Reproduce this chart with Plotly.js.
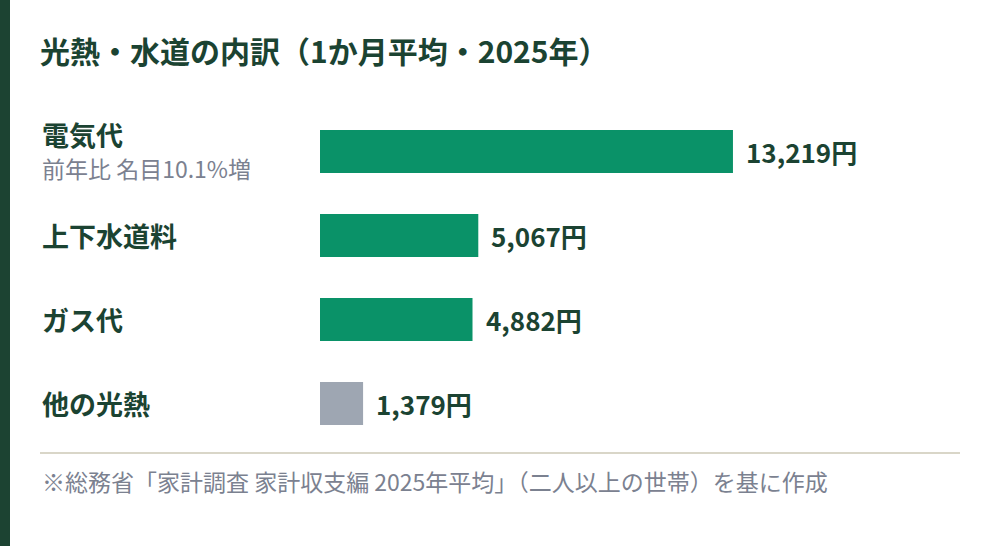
<!DOCTYPE html>
<html>
<head>
<meta charset="utf-8">
<script src="https://cdn.plot.ly/plotly-3.0.1.min.js"></script>
<style>
  html, body { margin: 0; padding: 0; background: #ffffff; }
  #chart { width: 1000px; height: 546px; }
</style>
</head>
<body>
<div id="chart"></div>
<script>
// data
var categories = ['電気代', '上下水道料', 'ガス代', '他の光熱'];
var values = [13219, 5067, 4882, 1379];
var barColors = ['#0a9268', '#0a9268', '#0a9268', '#9ea6b2'];
var subLabel = '前年比 名目10.1%増';
var titleText = '光熱・水道の内訳（1か月平均・2025年）';
var noteText = '※総務省「家計調査 家計収支編 2025年平均」（二人以上の世帯）を基に作成';

var FONT = '"Noto Sans CJK JP", "Noto Sans", sans-serif';
var DARK = '#1b4332';
var GRAY = '#7b8190';

function fmt(v) { return v.toLocaleString('en-US') + '円'; }

var trace = {
    type: 'bar',
    orientation: 'h',
    x: values,
    y: categories,
    marker: { color: barColors, line: { width: 0 } },
    width: 0.51,
    hoverinfo: 'none'
};

var annotations = [];
// category labels on the left
for (var i = 0; i < categories.length; i++) {
    annotations.push({
        xref: 'paper', yref: 'y', x: 0.04, y: categories[i],
        xanchor: 'left', yanchor: 'middle',
        yshift: i === 0 ? 17 : 0,
        text: '<b>' + categories[i] + '</b>',
        showarrow: false,
        font: { family: FONT, size: 27, color: DARK }
    });
    // value labels
    annotations.push({
        xref: 'x', yref: 'y', x: values[i], y: categories[i],
        xanchor: 'left', yanchor: 'middle', xshift: 11,
        text: '<b>' + fmt(values[i]) + '</b>',
        showarrow: false,
        font: { family: FONT, size: 26, color: DARK }
    });
}
annotations.push({
    xref: 'paper', yref: 'y', x: 0.04, y: categories[0],
    xanchor: 'left', yanchor: 'middle', yshift: -17,
    text: subLabel, showarrow: false,
    font: { family: FONT, size: 23, color: GRAY }
});
annotations.push({
    xref: 'paper', yref: 'paper', x: 0.04, y: 1 - 481 / 546,
    xanchor: 'left', yanchor: 'middle',
    text: noteText, showarrow: false,
    font: { family: FONT, size: 23, color: GRAY }
});

var layout = {
    width: 1000, height: 546,
    margin: { l: 0, r: 0, t: 0, b: 0 },
    paper_bgcolor: '#ffffff', plot_bgcolor: '#ffffff',
    showlegend: false,
    title: {
        text: '<b>' + titleText + '</b>',
        xref: 'paper', yref: 'paper', x: 0.04, y: 1 - 52 / 546,
        xanchor: 'left', yanchor: 'middle',
        font: { family: FONT, size: 30, color: DARK }
    },
    xaxis: {
        domain: [0.32, 1], range: [0, 21767],
        visible: false, fixedrange: true
    },
    yaxis: {
        domain: [1 - 445.5 / 546, 1 - 109.5 / 546],
        range: [3.5, -0.5], type: 'category',
        visible: false, fixedrange: true
    },
    shapes: [
        { type: 'rect', xref: 'paper', yref: 'paper', x0: 0, x1: 0.01, y0: 0, y1: 1,
          fillcolor: '#1c4332', line: { width: 0 } },
        { type: 'line', xref: 'paper', yref: 'paper', x0: 0.04, x1: 0.96,
          y0: 1 - 453 / 546, y1: 1 - 453 / 546,
          line: { color: '#d9d6c8', width: 2 } }
    ],
    annotations: annotations
};

Plotly.newPlot('chart', [trace], layout, { displayModeBar: false, staticPlot: true });
</script>
</body>
</html>
